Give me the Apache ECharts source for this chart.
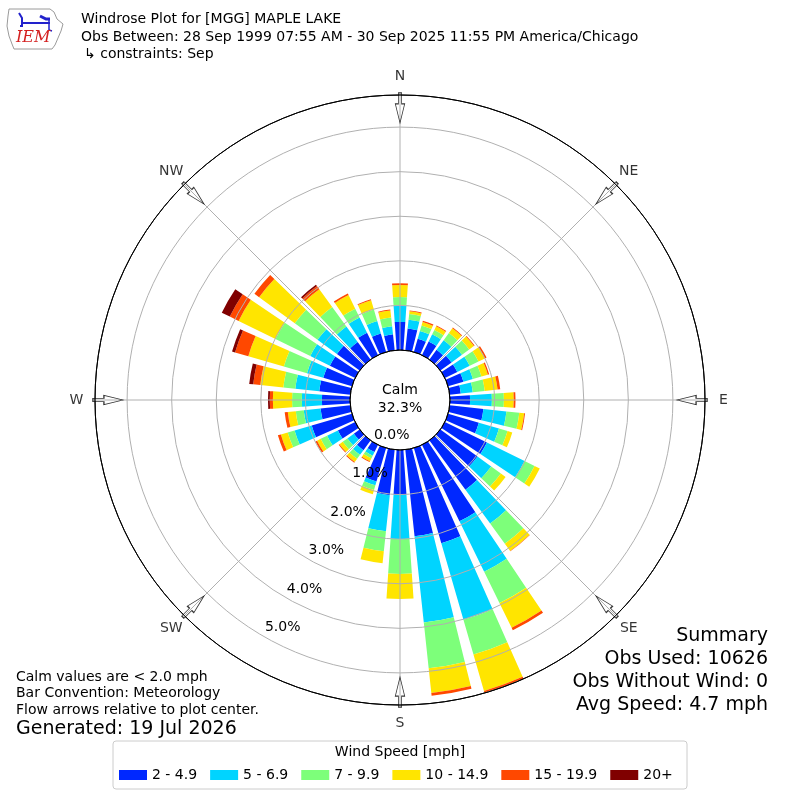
<!DOCTYPE html>
<html><head><meta charset="utf-8">
<script src="https://cdn.jsdelivr.net/npm/echarts@6/dist/echarts.min.js"></script>
<style>html,body{margin:0;padding:0;background:#fff}#c{width:800px;height:800px}</style>
</head><body><div id="c"></div>
<script>
// ---- data ----
const directions = ['0','10','20','30','40','50','60','70','80','90','100','110','120','130','140','150','160','170',
  '180','190','200','210','220','230','240','250','260','270','280','290','300','310','320','330','340','350'];
const speedBins = ['2 - 4.9','5 - 6.9','7 - 9.9','10 - 14.9','15 - 19.9','20+'];
// percent of observations per direction for each speed bin
const bin2to5   = [0.63,0.49,0.31,0.34,0.27,0.31,0.31,0.36,0.25,0.45,0.76,0.72,1.05,1.03,1.37,1.91,2.22,1.95,
                   1.01,1.03,0.78,0.18,0.27,0.16,0.43,0.94,0.67,0.63,0.70,0.67,0.63,0.63,0.49,0.56,0.43,0.36];
const bin5to7   = [0.36,0.20,0.18,0.18,0.27,0.29,0.31,0.22,0.27,0.49,0.52,0.47,0.94,0.38,0.94,1.26,1.79,1.95,
                   0.99,0.81,0.09,0.09,0.13,0.18,0.27,0.40,0.38,0.45,0.54,0.38,0.49,0.54,0.43,0.38,0.29,0.18];
const bin7to10  = [0.20,0.13,0.13,0.11,0.20,0.20,0.22,0.20,0.27,0.27,0.29,0.20,0.25,0.27,0.56,0.78,0.81,1.03,
                   0.78,0.45,0.11,0.07,0.11,0.13,0.16,0.16,0.18,0.22,0.27,0.54,0.87,0.63,0.54,0.22,0.27,0.20];
const bin10to15 = [0.27,0.06,0.08,0.09,0.13,0.13,0.16,0.15,0.29,0.22,0.11,0.11,0.13,0.13,0.20,0.62,0.85,0.56,
                   0.56,0.27,0.10,0.07,0.09,0.09,0.09,0.16,0.18,0.43,0.52,0.83,0.92,0.99,0.49,0.34,0.22,0.16];
const bin15to20 = [0.04,0.02,0.03,0.02,0.02,0.02,0.04,0.03,0.06,0.04,0.02,0,0,0,0.01,0.06,0.04,0.06,
                   0,0,0,0.02,0.02,0.02,0.04,0.07,0.07,0.07,0.16,0.31,0.22,0.13,0.09,0.04,0.02,0.02];
const bin20plus = [0,0,0,0,0,0,0,0,0,0,0,0,0,0,0,0,0,0,
                   0,0,0,0,0,0,0,0,0,0.04,0.09,0.07,0.20,0,0.04,0,0,0];
const compassLabels = ['N','NE','E','SE','S','SW','W','NW'];
const compassAngles = [0,45,90,135,180,225,270,315];
const ringTicks = [0,1,2,3,4,5];
const calmPercent = 32.3;
const summaryLines = ['Summary','Obs Used: 10626','Obs Without Wind: 0','Avg Speed: 4.7 mph'];
const noteLines = ['Calm values are < 2.0 mph','Bar Convention: Meteorology','Flow arrows relative to plot center.'];
const generatedText = 'Generated: 19 Jul 2026';
const titleLines = ['Windrose Plot for [MGG] MAPLE LAKE',
  'Obs Between: 28 Sep 1999 07:55 AM - 30 Sep 2025 11:55 PM America/Chicago',
  '\u21b3 constraints: Sep'];

// ---- styling / layout ----
const FONT = 'DejaVu Sans';
const binColors = ['#0028ff','#00d4ff','#7dff7a','#ffe500','#ff4800','#800000'];
const RMAX = 5.72;
const CENTER = [400, 400];
const ARROW_R = 5.43;
const LABEL_R = 6.135;
const binData = [bin2to5, bin5to7, bin7to10, bin10to15, bin15to20, bin20plus];

const chart = echarts.init(document.getElementById('c'), null, {renderer: 'canvas'});

const barSeries = speedBins.map((name, i) => ({
  name, type: 'bar', coordinateSystem: 'polar', polarIndex: 0, stack: 'rose',
  data: binData[i], barCategoryGap: '22%', itemStyle: {color: binColors[i]}, z: 2, silent: true
}));

const option = {
  animation: false,
  textStyle: {fontFamily: FONT},
  polar: [
    {center: CENTER, radius: [50, 305]},
    {center: CENTER, radius: [50, 305]},
    {center: CENTER, radius: [34.4, 255.9]}
  ],
  angleAxis: [
    {polarIndex: 0, type: 'category', data: directions, startAngle: 95, clockwise: true, boundaryGap: true,
     axisLine: {show: false}, axisTick: {show: false}, axisLabel: {show: false}, splitLine: {show: false}},
    {polarIndex: 1, type: 'value', min: 0, max: 360, interval: 45, startAngle: 90, clockwise: true, z: 5,
     axisLine: {show: true, lineStyle: {color: '#000', width: 1}}, axisTick: {show: false},
     axisLabel: {show: false},
     splitLine: {show: true, lineStyle: {color: '#b0b0b0', width: 1}}},
    {polarIndex: 2, type: 'value', min: 0, max: 360, startAngle: -119.5, clockwise: true, show: false}
  ],
  radiusAxis: [
    {polarIndex: 0, type: 'value', min: 0, max: RMAX, show: false},
    {polarIndex: 1, type: 'value', min: 0, max: RMAX, interval: 1, z: 5,
     axisLine: {show: false}, axisTick: {show: false}, axisLabel: {show: false},
     splitLine: {show: true, lineStyle: {color: ['#000','#b0b0b0','#b0b0b0','#b0b0b0','#b0b0b0','#b0b0b0','#000'], width: 1}}},
    {polarIndex: 2, type: 'value', min: ringTicks[0], max: ringTicks[ringTicks.length-1], interval: 1, z: 6,
     axisLine: {show: false}, axisTick: {show: false}, splitLine: {show: false},
     axisLabel: {show: true, margin: 10, align: 'center', verticalAlign: 'middle', fontSize: 14, color: '#000',
       fontFamily: FONT, formatter: v => v.toFixed(1) + '%'}}
  ],
  legend: {
    data: speedBins, left: 119, top: 768, padding: 0, itemWidth: 28, itemHeight: 10, itemGap: 13, icon: 'rect',
    selectedMode: false, textStyle: {fontSize: 14, color: '#000', fontFamily: FONT}
  },
  series: barSeries.concat([{
    // flow arrows
    type: 'scatter', coordinateSystem: 'polar', polarIndex: 1, silent: true, z: 10, clip: false,
    data: compassAngles.map(a => [ARROW_R, a]),
    symbol: 'path://M5.5,0 L11.2,0 L11.2,11 L16.7,11 L8.35,30 L0,11 L5.5,11 Z',
    symbolSize: [16.7, 30], symbolKeepAspect: true,
    symbolRotate: v => -v[1],
    itemStyle: {color: 'rgba(255,255,255,0)', borderColor: '#000', borderWidth: 1}
  }, {
    // compass labels
    type: 'scatter', coordinateSystem: 'polar', polarIndex: 1, silent: true, z: 11, clip: false,
    data: compassAngles.map(a => [LABEL_R, a]),
    symbolSize: 1, itemStyle: {color: 'rgba(0,0,0,0)'},
    label: {show: true, position: 'inside', fontSize: 14, color: '#000', fontFamily: FONT,
      formatter: p => compassLabels[p.dataIndex]}
  }]),
  graphic: [
    // calm
    {type: 'text', x: 400, y: 399, z: 20, style: {text: 'Calm\n' + calmPercent.toFixed(1) + '%', align: 'center',
      verticalAlign: 'middle', font: '14px "DejaVu Sans"', lineHeight: 18, fill: '#000'}},
    // titles
    {type: 'text', x: 81, y: 19, style: {text: titleLines[0], font: '14px "DejaVu Sans"', verticalAlign: 'middle', fill: '#000'}},
    {type: 'text', x: 81, y: 37, style: {text: titleLines[1], font: '14px "DejaVu Sans"', verticalAlign: 'middle', fill: '#000'}},
    {type: 'text', x: 84, y: 54, style: {text: titleLines[2], font: '14px "DejaVu Sans"', verticalAlign: 'middle', fill: '#000'}},
    // notes
    {type: 'text', x: 16, y: 677, style: {text: noteLines[0], font: '14px "DejaVu Sans"', verticalAlign: 'middle', fill: '#000'}},
    {type: 'text', x: 16, y: 693, style: {text: noteLines[1], font: '14px "DejaVu Sans"', verticalAlign: 'middle', fill: '#000'}},
    {type: 'text', x: 16, y: 710, style: {text: noteLines[2], font: '14px "DejaVu Sans"', verticalAlign: 'middle', fill: '#000'}},
    {type: 'text', x: 16, y: 729, style: {text: generatedText, font: '19px "DejaVu Sans"', verticalAlign: 'middle', fill: '#000'}},
    // summary
    {type: 'text', x: 768, y: 636, style: {text: summaryLines[0], font: '19px "DejaVu Sans"', align: 'right', verticalAlign: 'middle', fill: '#000'}},
    {type: 'text', x: 768, y: 659, style: {text: summaryLines[1], font: '19px "DejaVu Sans"', align: 'right', verticalAlign: 'middle', fill: '#000'}},
    {type: 'text', x: 768, y: 682, style: {text: summaryLines[2], font: '19px "DejaVu Sans"', align: 'right', verticalAlign: 'middle', fill: '#000'}},
    {type: 'text', x: 768, y: 705, style: {text: summaryLines[3], font: '19px "DejaVu Sans"', align: 'right', verticalAlign: 'middle', fill: '#000'}},
    // legend frame & title
    {type: 'rect', shape: {x: 113, y: 741, width: 574, height: 48, r: 3}, z: 0,
      style: {fill: '#fff', stroke: '#cccccc', lineWidth: 1}},
    {type: 'text', x: 400, y: 752, style: {text: 'Wind Speed [mph]', font: '14px "DejaVu Sans"', align: 'center', verticalAlign: 'middle', fill: '#000'}},
    // logo (simplified)
    {type: 'polygon', shape: {points: [[9,9],[50,9],[54,12],[57,19],[63,24],[61,31],[58,38],[55,45],[52,49],[14,49],[12,44],[9,36],[7,26],[8,16]]},
      style: {fill: 'none', stroke: '#9a9a9a', lineWidth: 1}},
    {type: 'polyline', shape: {points: [[22,23],[50,23]]}, style: {stroke: '#2222cc', lineWidth: 2}},
    {type: 'polyline', shape: {points: [[19,13],[22,18],[22,26],[20,26]]}, style: {stroke: '#2222cc', lineWidth: 2, fill: 'none'}},
    {type: 'polyline', shape: {points: [[40,16],[46,19],[50,19]]}, style: {stroke: '#2222cc', lineWidth: 3, fill: 'none'}},
    {type: 'polyline', shape: {points: [[49,20],[49,30],[52,31]]}, style: {stroke: '#2222cc', lineWidth: 1.5, fill: 'none'}},
    {type: 'text', x: 16, y: 38, style: {text: 'IEM', font: 'italic 16px "DejaVu Serif"', verticalAlign: 'middle', fill: '#d42020'}}
  ]
};
chart.setOption(option);
</script>
</body></html>
